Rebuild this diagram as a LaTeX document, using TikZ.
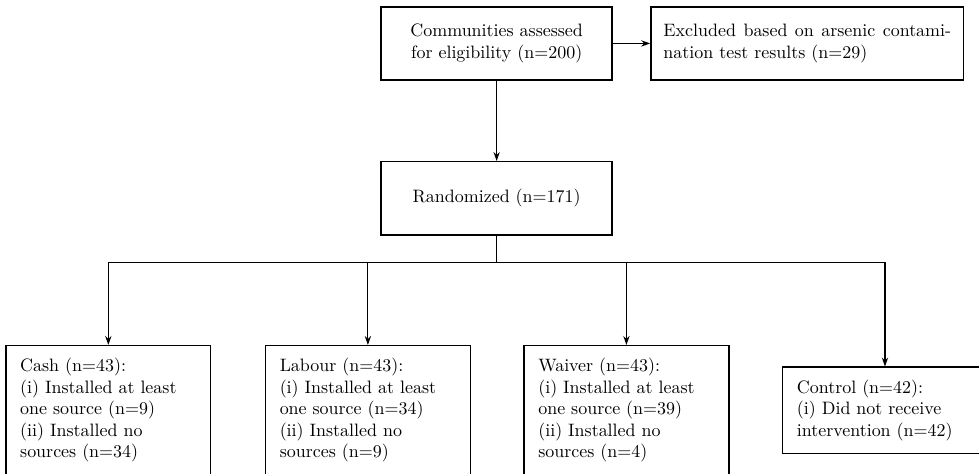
\documentclass[tikz,border=0pt]{standalone}
\usetikzlibrary{arrows.meta}
\tikzset{
    box/.style={draw, line width=0.8pt, inner sep=7pt},
    topbox/.style={box, align=center, minimum width=4.52cm, minimum height=1.43cm},
    armbox/.style={box, text width=3.45cm, align=left, minimum width=4.01cm},
    link/.style={line width=0.6pt},
    arrow/.style={link, -{Stealth[length=5pt,width=3.5pt]}}
}
\begin{document}
\begin{tikzpicture}

        \useasboundingbox (0, 0) rectangle (19.16, -9.26);

        %%draw the top boxes
        \node[topbox] (assess) at (9.72, -0.85){Communities assessed\\for eligibility (n=200)};
        \node[box, text width=5.63cm, align=justify, minimum height=1.43cm] (excluded) at (15.8, -0.85){Excluded based on arsenic contamination test results (n=29)};
        \node[topbox] (random) at (9.72, -3.88){Randomized (n=171)};

        %%draw the arms
        \node[armbox] (cash) at (2.12, -8.03){Cash (n=43):\\(i) Installed at least one source (n=9)\\(ii) Installed no sources (n=34)};
        \node[armbox] (labour) at (7.2, -8.03){Labour (n=43):\\(i) Installed at least one source (n=34)\\(ii) Installed no sources (n=9)};
        \node[armbox] (waiver) at (12.26, -8.03){Waiver (n=43):\\(i) Installed at least one source (n=39)\\(ii) Installed no sources (n=4)};
        \node[armbox] (control) at (17.32, -8.03){Control (n=42):\\(i) Did not receive intervention (n=42)};

        %%draw the links
        \draw[arrow] (assess) to (excluded);
        \draw[arrow] (assess) to (random);
        \coordinate (split) at (9.72, -5.13);
        \draw[link] (random) to (split);
        \draw[arrow] (split) -| (cash);
        \draw[arrow] (split) -| (labour);
        \draw[arrow] (split) -| (waiver);
        \draw[arrow] (split) -| (control);
\end{tikzpicture}
\end{document}
